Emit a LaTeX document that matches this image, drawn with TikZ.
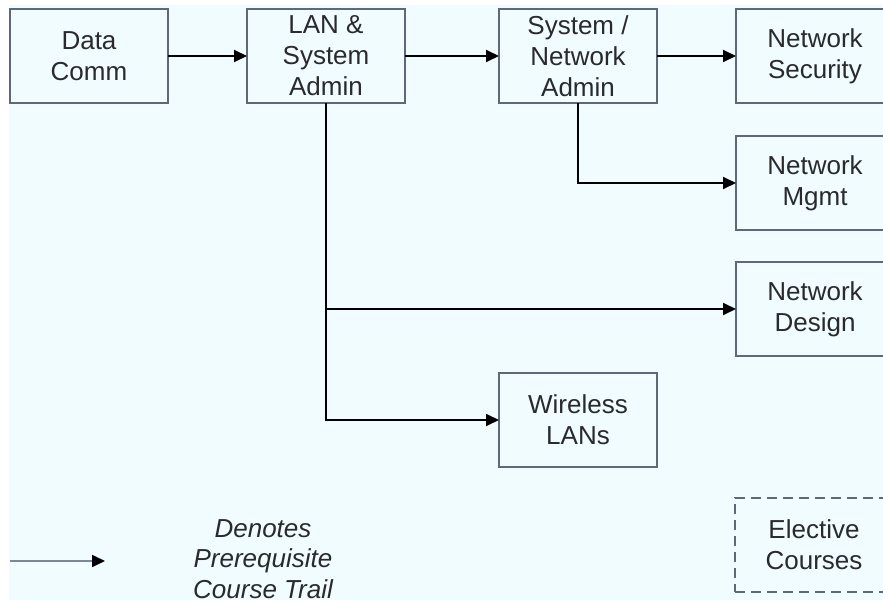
\documentclass[tikz,border=0pt]{standalone}
\usepackage{fontspec}
\setmainfont{Liberation Sans}
\usepackage{xcolor}
\usetikzlibrary{positioning,arrows.meta}

\definecolor{bgazure}{HTML}{F0FCFF}
\definecolor{boxline}{HTML}{5F6878}
\definecolor{textgray}{HTML}{2A2A2A}
\definecolor{legline}{HTML}{7C8899}

\begin{document}
\begin{tikzpicture}[x=1pt, y=-1pt, ->, >={Triangle[length=13pt, width=12pt]}, node distance=33pt and 79pt, course/.style = {draw=boxline, line width=1.8pt, fill=bgazure, minimum width=158pt, minimum height=94pt, inner sep=0pt, outer sep=0pt, align=center, text=textgray, font=\fontsize{26}{31}\selectfont}, trail/.style={line width=1.8pt, draw=black}]

\useasboundingbox (0,0) rectangle (883,604);
\fill[bgazure] (9,5) rectangle (883,600);
\clip (0,0) rectangle (883,604);

\node[course] (comm) at (89,56) {Data\\Comm};
\node[course] (lan) [right=79pt of comm] {LAN \&\\System\\Admin};
\node[course] (sysadm) [right=94pt of lan] {System /\\Network\\Admin};
\node[course] (sec) [right=79pt of sysadm] {Network\\Security};
\node[course] (mgmt) [below=33pt of sec] {Network\\Mgmt};
\node[course] (design) [below=32pt of mgmt] {Network\\Design};
\node[course] (wlan) at (578,420) {Wireless\\LANs};
\node[course, dashed, dash pattern=on 10pt off 6pt] (elec) at (814,545) {Elective\\Courses};

% legend
\coordinate (legfrom) at (10,561);
\coordinate (legto) at (105,561);
\node[align=center, inner sep=0pt, text=textgray, font=\fontsize{26}{30.5}\selectfont\itshape] (legtext) at (263,559) {Denotes\\Prerequisite\\Course Trail};

\path[trail]
    (comm) edge (lan)
    (lan) edge (sysadm)
    (sysadm) edge (sec);
\draw[trail] (sysadm.south) |- (mgmt.west);
\draw[trail] (lan.south) |- (design.west);
\draw[trail] (lan.south) |- (wlan.west);
\draw[trail, draw=legline, -{Triangle[length=13pt, width=12pt, color=black]}] (legfrom) -- (legto);
\end{tikzpicture}
\end{document}
